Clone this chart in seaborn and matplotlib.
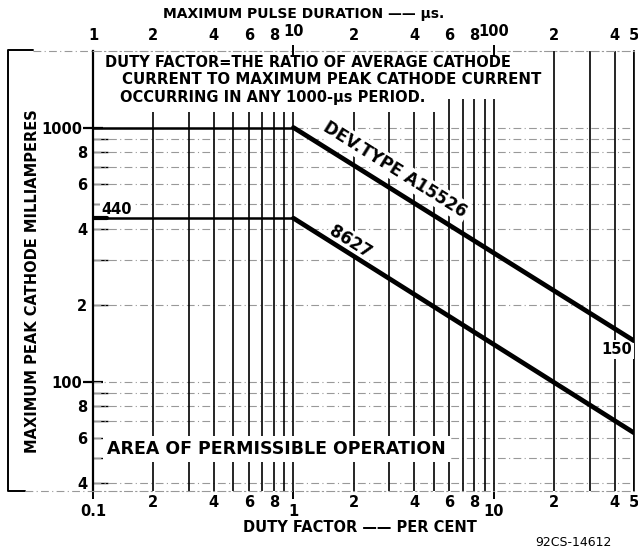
import matplotlib
matplotlib.use("Agg")
import numpy as np
import pandas as pd
import matplotlib.pyplot as plt
import seaborn as sns
from matplotlib.lines import Line2D
from matplotlib.ticker import FixedLocator, FixedFormatter

# rating curves (duty factor in per cent, peak cathode current in mA)
duty = [0.1, 1, 50]
a15526_ma = [1000, 1000, 145]
t8627_ma = [440, 440, 63]

# axis ticks
x_major = [0.1, 1, 10]
x_major_labels = ["0.1", "1", "10"]
x_minor = [0.2, 0.4, 0.6, 0.8, 2, 4, 6, 8, 20, 40, 50]
x_minor_labels = ["2", "4", "6", "8", "2", "4", "6", "8", "2", "4", "5"]

top_major = [10, 100]
top_major_labels = ["10", "100"]
top_minor = [1, 2, 4, 6, 8, 20, 40, 60, 80, 200, 400, 500]
top_minor_labels = ["1", "2", "4", "6", "8", "2", "4", "6", "8", "2", "4", "5"]

y_major = [100, 1000]
y_major_labels = ["100", "1000"]
y_minor = [40, 50, 60, 70, 80, 90, 200, 300, 400, 500, 600, 700, 800, 900]
y_minor_labels = ["4", "", "6", "", "8", "", "2", "", "4", "", "6", "", "8", ""]

df = pd.DataFrame({"duty": duty * 2,
                   "ma": a15526_ma + t8627_ma,
                   "tube": ["A15526"] * 3 + ["8627"] * 3})

sns.set_theme(style="white")
plt.rcParams["font.family"] = ["DejaVu Sans"]
plt.rcParams["font.weight"] = "bold"
plt.rcParams["text.color"] = "black"
plt.rcParams["xtick.color"] = "black"
plt.rcParams["ytick.color"] = "black"

W, H = 638, 554
fig = plt.figure(figsize=(W / 100, H / 100), dpi=100)
ax = fig.add_axes([93 / W, 1 - 491 / H, (634 - 93) / W, (491 - 51) / H])
ax.set_xscale("log")
ax.set_yscale("log")

# light dash-dot horizontal grid
grid_style = dict(color="0.6", lw=0.8, ls=(0, (7, 3, 1, 3)))
for yv in y_minor + y_major:
    ax.axhline(yv, zorder=1, **grid_style)

# black vertical rulings
v_low = [0.2, 0.3, 0.4, 0.5, 0.6, 0.7, 0.8, 0.9, 1, 2, 3, 4, 5]
v_mid = [6, 7, 8, 9, 10]
v_full = [20, 30, 40, 50]
ax.vlines(v_low, 37.2, 1150, color="black", lw=1.2, zorder=2)
ax.vlines(v_mid, 37.2, 1290, color="black", lw=1.2, zorder=2)
ax.vlines(v_full, 37.2, 2000, color="black", lw=1.2, zorder=2)

# curves: flat part thinner, sloping part heavy
for tube in ["A15526", "8627"]:
    d = df[df["tube"] == tube]
    sns.lineplot(data=d.iloc[:2], x="duty", y="ma", color="black", lw=1.8,
                 ax=ax, zorder=4, legend=False)
    sns.lineplot(data=d.iloc[1:], x="duty", y="ma", color="black", lw=3.4,
                 ax=ax, zorder=4, legend=False)
ax.plot([0.1, 0.118], [440, 440], color="black", lw=3, zorder=4)
ax.set_xlabel("")
ax.set_ylabel("")
ax.set_xlim(0.1, 50)
ax.set_ylim(37.2, 2000)

for s in ["top", "bottom"]:
    ax.spines[s].set_color("0.6")
    ax.spines[s].set_linestyle((0, (7, 3, 1, 3)))
    ax.spines[s].set_linewidth(0.8)
ax.spines["left"].set_color("black")
ax.spines["left"].set_linewidth(1.6)
ax.spines["right"].set_color("black")
ax.spines["right"].set_linewidth(1.2)

# bottom ticks
ax.xaxis.set_major_locator(FixedLocator(x_major))
ax.xaxis.set_major_formatter(FixedFormatter(x_major_labels))
ax.xaxis.set_minor_locator(FixedLocator(x_minor))
ax.xaxis.set_minor_formatter(FixedFormatter(x_minor_labels))
ax.tick_params(axis="x", which="major", length=6, width=1.4, direction="out",
               pad=3, labelsize=10.5, bottom=True)
ax.tick_params(axis="x", which="minor", length=0, pad=3, labelsize=10.5,
               bottom=True)

# left ticks
ax.yaxis.set_major_locator(FixedLocator(y_major))
ax.yaxis.set_major_formatter(FixedFormatter(y_major_labels))
ax.yaxis.set_minor_locator(FixedLocator(y_minor))
ax.yaxis.set_minor_formatter(FixedFormatter(y_minor_labels))
ax.tick_params(axis="y", which="major", length=14, width=1.6, direction="inout",
               pad=1, labelsize=10.5, left=True)
ax.tick_params(axis="y", which="minor", length=11, width=1.0, direction="in",
               pad=4, labelsize=10.5, left=True)

# top axis: pulse duration in microseconds
top = ax.twiny()
top.set_xscale("log")
top.set_xlim(1, 500)
top.xaxis.set_major_locator(FixedLocator(top_major))
top.xaxis.set_major_formatter(FixedFormatter(top_major_labels))
top.xaxis.set_minor_locator(FixedLocator(top_minor))
top.xaxis.set_minor_formatter(FixedFormatter(top_minor_labels))
top.tick_params(axis="x", which="major", length=9, width=1.4, direction="inout",
                pad=4, labelsize=10.5, top=True)
top.tick_params(axis="x", which="minor", length=0, pad=6, labelsize=10.5,
                top=True)
for s in top.spines.values():
    s.set_visible(False)

# annotations (boxes sit under the curves but over the rulings)
white = dict(facecolor="white", edgecolor="none", pad=1.5)
ax.text(0.1147, 1803, "DUTY FACTOR=THE RATIO OF AVERAGE CATHODE",
        fontsize=10.5, va="center", ha="left", bbox=white, zorder=3)
ax.text(0.1394, 1546, "CURRENT TO MAXIMUM PEAK CATHODE CURRENT",
        fontsize=10.8, va="center", ha="left", bbox=white, zorder=3)
ax.text(0.136, 1312, "OCCURRING IN ANY 1000-\u00b5s PERIOD.",
        fontsize=10.5, va="center", ha="left", bbox=white, zorder=3)

ax.text(3.22, 684, "DEV.TYPE A15526", fontsize=12, rotation=-32,
        ha="center", va="center", bbox=white, zorder=3)
ax.text(1.92, 356, "8627", fontsize=12, rotation=-32,
        ha="center", va="center", bbox=white, zorder=3)
ax.text(40.9, 134, "150", fontsize=10.5, ha="center", va="center",
        bbox=white, zorder=3)
ax.text(0.1316, 475, "440", fontsize=10.5, ha="center", va="center",
        bbox=white, zorder=3)
ax.text(0.823, 54.5, "AREA OF PERMISSIBLE OPERATION", fontsize=12.5,
        ha="center", va="center",
        bbox=dict(facecolor="white", edgecolor="none", pad=3), zorder=3)

fig.text(360 / W, 1 - 527 / H, "DUTY FACTOR \u2014\u2014 PER CENT",
         fontsize=10.5, ha="center", va="center")
fig.text(304 / W, 1 - 14 / H, "MAXIMUM PULSE DURATION \u2014\u2014 \u00b5s.",
         fontsize=10, ha="center", va="center")
fig.text(33 / W, 1 - 281 / H, "MAXIMUM PEAK CATHODE MILLIAMPERES",
         fontsize=10.5, rotation=90, ha="center", va="center")
fig.text(573 / W, 1 - 543 / H, "92CS-14612", fontsize=9,
         ha="center", va="center", weight="normal")

# bracket at the far left
fig.add_artist(Line2D([33 / W, 8 / W, 8 / W, 25 / W],
                      [1 - 50 / H, 1 - 50 / H, 1 - 491 / H, 1 - 491 / H],
                      color="black", lw=1.4, transform=fig.transFigure))
fig.add_artist(Line2D([33 / W, 93 / W], [1 - 51 / H, 1 - 51 / H],
                      transform=fig.transFigure, **grid_style))
fig.add_artist(Line2D([25 / W, 93 / W], [1 - 491 / H, 1 - 491 / H],
                      transform=fig.transFigure, **grid_style))

fig.savefig("out.png", dpi=100)
